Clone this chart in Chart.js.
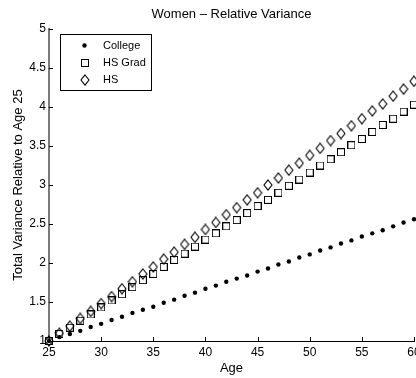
<!DOCTYPE html>
<html>
<head>
<meta charset="utf-8">
<script src="https://cdn.jsdelivr.net/npm/chart.js@4"></script>
<style>
  html, body { margin: 0; padding: 0; background: #fff; }
  #wrap { width: 416px; height: 378px; overflow: hidden; }
</style>
</head>
<body>
<div id="wrap"><canvas id="variance" width="440" height="378"></canvas></div>
<script>
const ages = [25, 26, 27, 28, 29, 30, 31, 32, 33, 34, 35, 36, 37, 38, 39, 40, 41, 42,
              43, 44, 45, 46, 47, 48, 49, 50, 51, 52, 53, 54, 55, 56, 57, 58, 59, 60];
const college = [1.00, 1.05, 1.09, 1.13, 1.18, 1.22, 1.27, 1.31, 1.36, 1.40, 1.44, 1.49,
                 1.53, 1.58, 1.62, 1.67, 1.71, 1.76, 1.80, 1.84, 1.89, 1.93, 1.98, 2.02,
                 2.07, 2.11, 2.16, 2.20, 2.25, 2.29, 2.34, 2.38, 2.42, 2.47, 2.52, 2.56];
const hsGrad = [1.00, 1.09, 1.17, 1.26, 1.34, 1.43, 1.52, 1.60, 1.69, 1.78, 1.86, 1.95,
                2.04, 2.12, 2.21, 2.30, 2.38, 2.47, 2.55, 2.64, 2.73, 2.81, 2.90, 2.99,
                3.07, 3.16, 3.25, 3.33, 3.42, 3.51, 3.59, 3.68, 3.77, 3.85, 3.94, 4.03];
const hs = [1.00, 1.10, 1.19, 1.29, 1.38, 1.48, 1.57, 1.67, 1.76, 1.86, 1.95, 2.05,
            2.14, 2.24, 2.33, 2.43, 2.52, 2.62, 2.71, 2.81, 2.90, 3.00, 3.09, 3.19,
            3.28, 3.38, 3.47, 3.57, 3.66, 3.76, 3.85, 3.95, 4.04, 4.14, 4.23, 4.33];
const xTicks = [25, 30, 35, 40, 45, 50, 55, 60];
const yTicks = [1, 1.5, 2, 2.5, 3, 3.5, 4, 4.5, 5];

Chart.defaults.font.family = '"Liberation Sans", Arial, Helvetica, sans-serif';
Chart.defaults.color = '#000';

// small canvases used as point styles (matlab-ish open markers)
function marker(w, h, lw, draw) {
  const c = document.createElement('canvas');
  c.width = w; c.height = h;
  const g = c.getContext('2d');
  g.strokeStyle = '#000';
  g.lineWidth = lw;
  draw(g);
  return c;
}
const squareMark = marker(8, 8, 1, g => g.strokeRect(0.5, 0.5, 7, 7));
const diamondMark = marker(10, 12, 1.1, g => {
  g.beginPath();
  g.moveTo(5, 1); g.lineTo(9, 6); g.lineTo(5, 11); g.lineTo(1, 6);
  g.closePath();
  g.stroke();
});

const pts = arr => ages.map((a, i) => ({ x: a, y: arr[i] }));

// inward ticks + boxed legend
const matlabAxes = {
  id: 'matlabAxes',
  afterDraw(chart) {
    const { ctx, chartArea: a, scales: { x, y } } = chart;
    ctx.save();
    ctx.strokeStyle = '#000';
    ctx.lineWidth = 1;
    ctx.beginPath();
    x.ticks.forEach(t => {
      const px = Math.round(x.getPixelForValue(t.value)) + 0.5;
      ctx.moveTo(px, a.bottom); ctx.lineTo(px, a.bottom - 4);
    });
    y.ticks.forEach(t => {
      const py = Math.round(y.getPixelForValue(t.value)) + 0.5;
      ctx.moveTo(a.left, py); ctx.lineTo(a.left + 4, py);
    });
    ctx.stroke();

    // legend box
    ctx.fillStyle = '#fff';
    ctx.fillRect(60.5, 34.5, 91, 56);
    ctx.strokeRect(60.5, 34.5, 91, 56);
    ctx.font = '11px "Liberation Sans", Arial, sans-serif';
    ctx.textBaseline = 'middle';
    chart.data.datasets.forEach((ds, i) => {
      const cy = 45.5 + i * 17.3;
      const cx = 84.5;
      if (ds.pointStyle === 'circle') {
        ctx.fillStyle = '#000';
        ctx.beginPath();
        ctx.arc(cx, cy, ds.pointRadius, 0, Math.PI * 2);
        ctx.fill();
      } else {
        const img = ds.pointStyle;
        ctx.drawImage(img, Math.round(cx - img.width / 2), Math.round(cy - img.height / 2));
      }
      ctx.fillStyle = '#000';
      ctx.fillText(ds.label, 103, cy);
    });
    ctx.restore();
  }
};

new Chart(document.getElementById('variance'), {
  type: 'scatter',
  data: {
    datasets: [
      { label: 'College', data: pts(college), pointStyle: 'circle', pointRadius: 2.2,
        backgroundColor: '#000', borderColor: '#000', borderWidth: 0, clip: false },
      { label: 'HS Grad', data: pts(hsGrad), pointStyle: squareMark, pointRadius: 4,
        borderColor: '#000', clip: false },
      { label: 'HS', data: pts(hs), pointStyle: diamondMark, pointRadius: 5,
        borderColor: '#000', clip: false }
    ]
  },
  options: {
    responsive: false,
    animation: false,
    devicePixelRatio: 1,
    layout: { padding: { left: 0, right: 26, top: 0, bottom: 0 } },
    plugins: {
      legend: { display: false },
      tooltip: { enabled: false },
      title: {
        display: true,
        text: 'Women \u2013 Relative Variance',
        color: '#000',
        fullSize: false,
        font: { size: 13, weight: 'normal' },
        padding: { top: 7, bottom: 6.4 }
      }
    },
    scales: {
      x: {
        type: 'linear',
        min: 25,
        max: 60,
        afterBuildTicks: s => { s.ticks = xTicks.map(v => ({ value: v })); },
        afterFit: s => { s.height = 37; },
        grid: { display: false, drawTicks: false },
        border: { color: '#000', width: 1 },
        ticks: { color: '#000', font: { size: 12 }, padding: 4, maxRotation: 0, autoSkip: false,
                 callback: v => String(v) },
        title: { display: true, text: 'Age', color: '#000', font: { size: 13 },
                 padding: { top: 0, bottom: 2 } }
      },
      y: {
        min: 1,
        max: 5,
        afterBuildTicks: s => { s.ticks = yTicks.map(v => ({ value: v })); },
        afterFit: s => { s.width = 49; },
        grid: { display: false, drawTicks: false },
        border: { color: '#7a7a7a', width: 2 },
        ticks: { color: '#000', font: { size: 12 }, padding: 3, autoSkip: false,
                 callback: v => String(v) },
        title: { display: true, text: 'Total Variance Relative to Age 25', color: '#000',
                 font: { size: 13 }, padding: { top: 11, bottom: 0 } }
      }
    }
  },
  plugins: [matlabAxes]
});
</script>
</body>
</html>
